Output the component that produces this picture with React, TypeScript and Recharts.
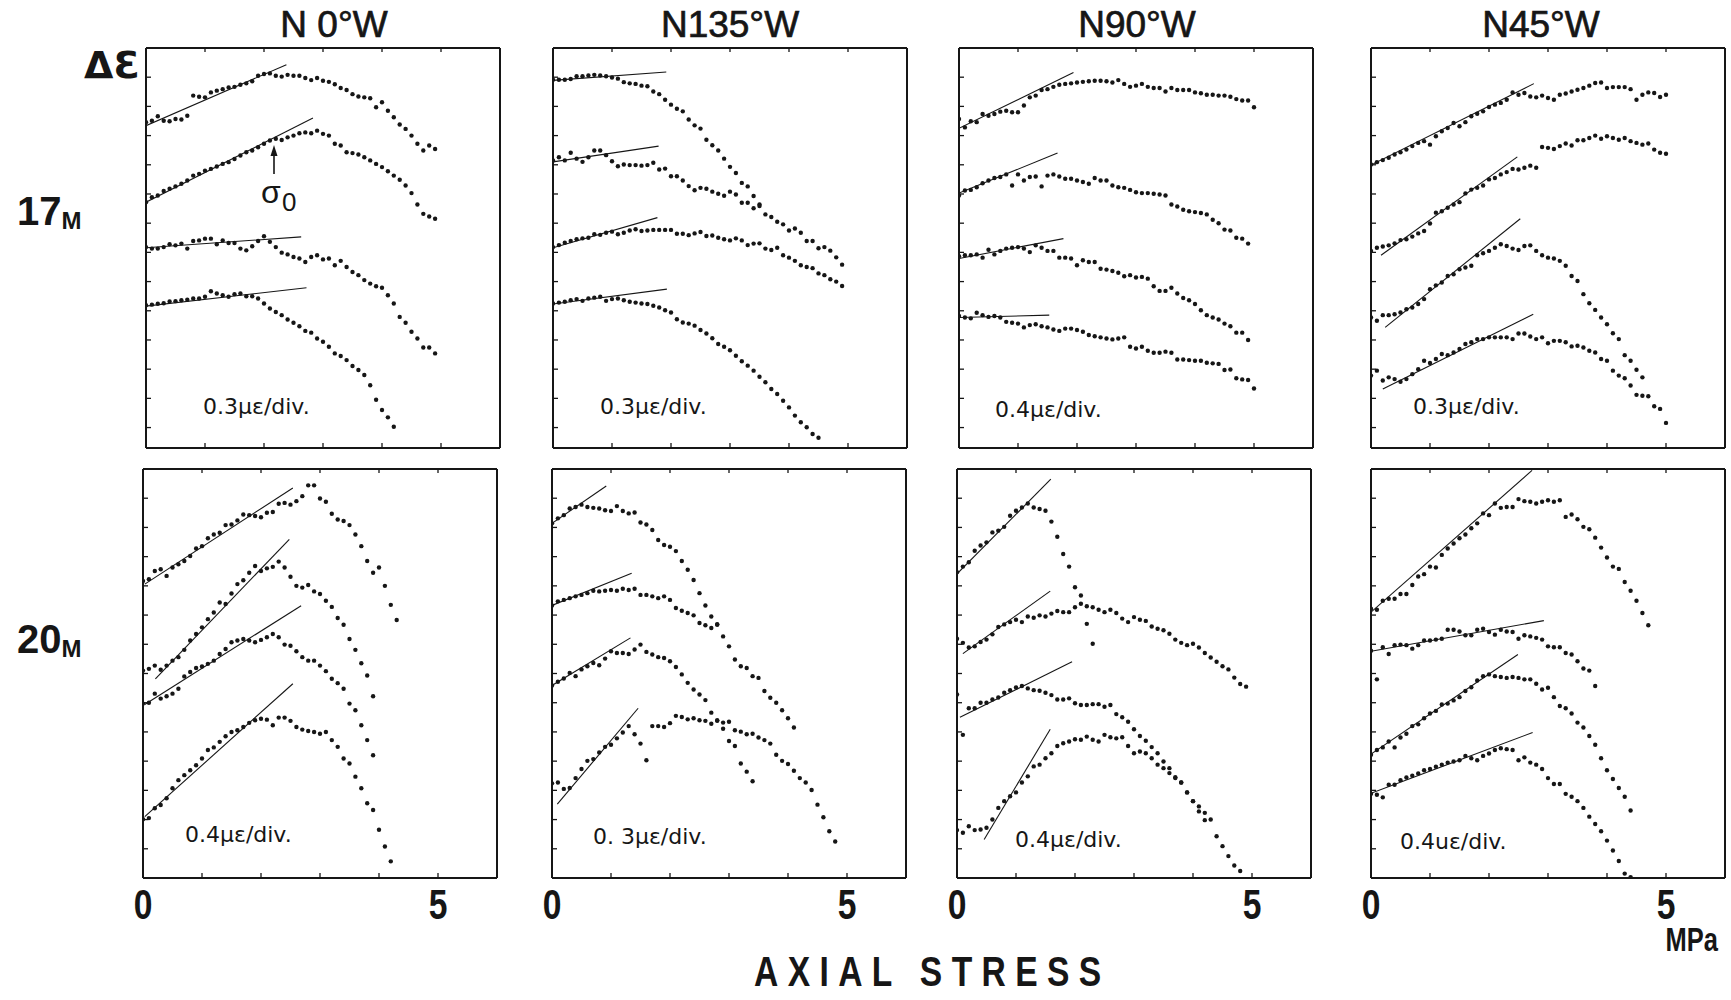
import React from "react";
import { ComposedChart, Scatter, Line, XAxis, YAxis } from "recharts";

// axial stress sampling (MPa), one dot every 0.1 MPa
const STRESS = [
  0, 0.1, 0.2, 0.3, 0.4, 0.5, 0.6, 0.7, 0.8, 0.9, 1.0, 1.1, 1.2, 1.3, 1.4, 1.5, 1.6, 1.7, 1.8, 1.9, 2.0,
  2.1, 2.2, 2.3, 2.4, 2.5, 2.6, 2.7, 2.8, 2.9, 3.0, 3.1, 3.2, 3.3, 3.4, 3.5, 3.6, 3.7, 3.8, 3.9, 4.0,
  4.1, 4.2, 4.3, 4.4, 4.5, 4.6, 4.7, 4.8, 4.9, 5.0,
];

const ORIENTATIONS = ["N 0°W", "N135°W", "N90°W", "N45°W"];
const DEPTHS = ["17", "20"];
const SCALES_17 = ["0.3μɛ/div.", "0.3μɛ/div.", "0.4μɛ/div.", "0.3μɛ/div."];
const SCALES_20 = ["0.4μɛ/div.", "0. 3μɛ/div.", "0.4μɛ/div.", "0.4uɛ/div."];
const X_TICKS = [0, 1, 2, 3, 4, 5];
const Y_TICKS = [0, 1, 2, 3, 4, 5, 6, 7, 8, 9, 10, 11, 12];

// ---- 17 m, N0°W ----  (strain in chart divisions, curves offset)
const N0W_17_1 = [10.46,10.51,10.66,10.51,10.49,10.57,10.55,10.68,11.37,11.33,11.31,11.48,11.54,11.59,11.65,11.67,11.74,11.79,11.86,12.05,12.11,12.13,12.05,12.02,12.08,12.05,12.05,11.97,11.9,11.97,11.88,11.84,11.76,11.63,11.56,11.42,11.34,11.31,11.28,10.97,11.14,10.85,10.63,10.38,10.23,10.0,9.72,9.49,9.66,9.54];
const N0W_17_2 = [7.72,7.89,7.95,8.1,8.18,8.26,8.35,8.46,8.63,8.69,8.8,8.86,8.94,9.03,9.09,9.2,9.32,9.43,9.49,9.6,9.72,9.83,9.89,9.85,9.94,10.0,10.08,10.11,10.08,10.17,10.06,10.0,9.72,9.66,9.43,9.4,9.35,9.26,9.15,9.03,8.92,8.78,8.63,8.49,8.29,8.03,7.64,7.32,7.23,7.15];
const N0W_17_3 = [6.18,6.13,6.13,6.18,6.28,6.24,6.3,6.13,6.39,6.41,6.47,6.47,6.28,6.41,6.32,6.32,6.13,6.07,6.21,6.39,6.55,6.36,6.18,5.99,5.93,5.84,5.79,5.67,5.84,5.9,5.76,5.79,5.56,5.71,5.5,5.33,5.22,5.05,4.93,4.84,4.79,4.53,4.25,3.79,3.59,3.28,3.05,2.74,2.74,2.54];
const N0W_17_4 = [4.19,4.21,4.24,4.26,4.32,4.33,4.36,4.38,4.42,4.42,4.48,4.67,4.59,4.53,4.48,4.57,4.59,4.5,4.5,4.42,4.25,4.08,3.96,3.85,3.7,3.59,3.47,3.31,3.25,3.05,2.94,2.77,2.54,2.45,2.31,2.11,1.97,1.8,1.45,0.95,0.6,0.35,0.03];
const FIT_N0W_17 = [[[0, 10.34], [2.38, 12.43]], [[0, 7.72], [2.83, 10.6]], [[0, 6.16], [2.63, 6.53]], [[0, 4.16], [2.72, 4.79]]];

// ---- 17 m, N135°W ----
const N135W_17_1 = [11.91,11.91,11.91,11.94,12.03,12.03,12.06,12.08,12.06,12.03,11.99,11.95,11.83,11.79,11.77,11.71,11.69,11.51,11.42,11.23,11.06,10.92,10.83,10.55,10.35,10.24,9.86,9.67,9.49,9.21,8.93,8.72,8.38,8.26,7.93,7.64,7.3,7.21,7.05,6.96,6.75,6.82,6.67,6.39,6.39,6.14,6.18,6.06,5.83,5.58];
const N135W_17_2 = [9.15,9.26,9.15,9.41,9.21,9.1,9.26,9.49,9.49,9.33,9.12,8.95,9.01,8.99,8.99,8.97,8.99,9.07,8.84,8.87,8.61,8.61,8.46,8.27,8.13,8.21,8.18,8.08,8.01,7.94,8.08,7.98,7.7,7.7,7.51,7.59];
const N135W_17_3 = [6.18,6.25,6.33,6.39,6.45,6.48,6.5,6.62,6.6,6.67,6.71,6.62,6.67,6.75,6.79,6.73,6.75,6.77,6.77,6.77,6.77,6.64,6.64,6.59,6.65,6.7,6.56,6.58,6.5,6.45,6.41,6.48,6.41,6.25,6.3,6.31,6.13,6.08,6.16,5.9,5.82,5.71,5.56,5.5,5.46,5.28,5.22,5.08,5.0,4.85];
const N135W_17_4 = [4.25,4.28,4.31,4.36,4.4,4.34,4.42,4.45,4.48,4.34,4.4,4.42,4.36,4.31,4.28,4.25,4.23,4.17,4.11,4.02,3.94,3.71,3.6,3.56,3.49,3.34,3.22,3.06,2.86,2.77,2.65,2.46,2.27,2.12,1.95,1.74,1.55,1.32,1.15,0.92,0.69,0.41,0.18,0.01,-0.22,-0.35];
const FIT_N135W_17 = [[[0, 11.89], [1.92, 12.18]], [[0, 9.1], [1.79, 9.64]], [[0, 6.16], [1.77, 7.19]], [[0, 4.23], [1.93, 4.74]]];

// ---- 17 m, N90°W ----
const N90W_17_1 = [10.57,10.28,10.49,10.46,10.74,10.68,10.74,10.82,10.85,10.8,10.8,11.03,11.31,11.37,11.56,11.59,11.67,11.74,11.77,11.79,11.82,11.84,11.86,11.88,11.88,11.86,11.82,11.9,11.77,11.67,11.71,11.77,11.67,11.63,11.63,11.51,11.63,11.56,11.56,11.56,11.48,11.45,11.4,11.4,11.37,11.37,11.33,11.25,11.2,11.2,10.97];
const N90W_17_2 = [7.95,8.12,8.14,8.23,8.37,8.46,8.55,8.58,8.67,8.29,8.67,8.46,8.58,8.6,8.26,8.63,8.67,8.6,8.52,8.52,8.46,8.41,8.35,8.55,8.46,8.46,8.29,8.23,8.21,8.14,8.06,8.03,8.03,8.01,7.98,7.95,7.64,7.57,7.46,7.41,7.38,7.35,7.3,7.12,7.0,6.78,6.75,6.5,6.47,6.3];
const N90W_17_3 = [5.87,5.9,5.9,5.93,5.82,6.09,5.93,6.05,6.13,6.16,6.18,6.13,6.01,6.24,6.16,6.05,6.05,5.82,5.82,5.79,5.56,5.73,5.67,5.67,5.44,5.41,5.36,5.3,5.18,5.22,5.14,5.16,5.1,4.84,4.68,4.68,4.79,4.59,4.44,4.36,4.23,4.02,3.85,3.77,3.7,3.56,3.47,3.25,3.25,3.0];
const N90W_17_4 = [3.82,3.77,3.74,3.93,3.85,3.79,3.82,3.77,3.62,3.59,3.56,3.43,3.51,3.54,3.47,3.43,3.36,3.31,3.39,3.39,3.34,3.28,3.17,3.13,3.09,3.05,3.02,3.05,3.09,2.77,2.71,2.77,2.63,2.56,2.56,2.6,2.56,2.33,2.33,2.31,2.29,2.29,2.22,2.2,2.18,1.97,1.99,1.69,1.65,1.63,1.34];
const FIT_N90W_17 = [[[0, 10.25], [1.94, 12.16]], [[0, 8.03], [1.67, 9.4]], [[0, 5.79], [1.77, 6.47]], [[0, 3.77], [1.53, 3.85]]];

// ---- 17 m, N45°W ----
const N45W_17_1 = [9.01,9.09,9.16,9.24,9.35,9.43,9.52,9.64,9.75,9.81,9.69,9.98,10.15,10.26,10.43,10.32,10.46,10.66,10.75,10.83,10.98,11.06,11.12,11.23,11.48,11.4,11.46,11.34,11.31,11.37,11.29,11.23,11.4,11.44,11.51,11.57,11.63,11.71,11.8,11.82,11.63,11.66,11.66,11.66,11.59,11.23,11.4,11.48,11.46,11.32,11.4];
const N45W_17_2 = [6.05,6.16,6.2,6.24,6.31,6.42,6.45,6.54,6.65,6.73,6.99,7.36,7.41,7.53,7.64,7.72,8.02,8.15,8.21,8.29,8.5,8.55,8.67,8.75,8.86,8.84,8.9,8.97,8.9,9.61,9.58,9.54,9.64,9.73,9.66,9.84,9.84,9.92,10.0,9.89,9.98,9.92,9.86,9.92,9.81,9.75,9.69,9.73,9.52,9.41,9.38];
const N45W_17_3 = [3.77,3.66,3.85,3.85,3.88,3.94,4.05,4.11,4.23,4.4,4.74,4.87,4.97,5.19,5.25,5.42,5.48,5.54,5.9,5.97,6.05,6.16,6.28,6.22,6.13,6.08,6.22,6.24,6.05,5.9,5.82,5.79,5.71,5.54,5.19,5.02,4.57,4.26,4.03,3.77,3.54,3.23,3.03,2.48,2.29,1.98,1.72];
const N45W_17_4 = [1.78,1.95,1.61,1.72,1.66,1.57,1.66,1.83,2.0,2.29,2.21,2.35,2.52,2.48,2.57,2.69,2.86,2.92,3.03,3.03,3.09,3.09,3.09,3.09,3.03,3.22,3.22,3.12,3.03,3.09,2.89,2.97,2.97,2.92,2.78,2.8,2.74,2.63,2.57,2.35,2.29,1.95,1.78,1.69,1.44,1.12,1.09,1.07,0.73,0.64,0.16];
const FIT_N45W_17 = [[[0, 8.99], [2.76, 11.78]], [[0.17, 5.9], [2.48, 9.27]], [[0.24, 3.43], [2.53, 7.15]], [[0.2, 1.32], [2.75, 3.88]]];

// ---- 20 m, N0°W ----
const N0W_20_1 = [9.17,9.23,9.51,9.57,9.34,9.63,9.74,9.85,10.02,10.28,10.36,10.63,10.76,10.82,11.08,11.1,11.24,11.44,11.42,11.39,11.35,11.5,11.53,11.81,11.84,11.78,11.9,12.07,12.44,12.44,11.99,11.88,11.47,11.27,11.22,11.08,10.76,10.36,9.85,9.45,9.63,9.0,8.35,7.83];
const N0W_20_2 = [6.1,6.16,6.27,6.13,6.27,6.44,6.56,6.81,7.13,7.35,7.58,7.86,8.09,8.43,8.38,8.74,9.06,9.19,9.45,9.68,9.51,9.6,9.65,9.83,9.63,9.31,9.0,8.94,9.03,8.81,8.72,8.49,8.28,7.9,7.67,7.18,6.81,6.35,5.93,5.22];
const N0W_20_3 = [4.97,5.0,5.31,5.14,5.22,5.31,5.48,5.9,6.05,6.19,6.24,6.33,6.44,6.67,6.84,7.07,7.13,7.18,7.13,7.07,7.15,7.24,7.35,7.24,6.99,6.95,6.76,6.56,6.44,6.44,6.27,6.08,5.82,5.67,5.48,4.97,4.74,4.23,3.72,3.2];
const N0W_20_4 = [1.01,1.05,1.39,1.5,1.73,2.07,2.35,2.52,2.69,2.86,3.09,3.38,3.47,3.66,3.85,4.0,4.06,4.17,4.31,4.4,4.45,4.42,4.23,4.49,4.49,4.38,4.17,4.08,4.03,4.0,3.94,4.0,3.72,3.49,3.09,2.92,2.47,2.07,1.56,1.33,0.65,0.08,-0.43];
const FIT_N0W_20 = [[[0.03, 9.06], [2.54, 12.35]], [[0.21, 5.82], [2.48, 10.59]], [[0.03, 4.94], [2.68, 8.32]], [[0.03, 1.1], [2.54, 5.65]]];

// ---- 20 m, N135°W ----
const N135W_20_1 = [11.14,11.31,11.42,11.65,11.7,11.78,11.7,11.67,11.65,11.59,11.56,11.73,11.56,11.48,11.51,11.17,11.1,10.91,10.57,10.4,10.34,10.19,9.85,9.55,9.2,8.75,8.33,7.95,7.69,7.27,6.93,6.48,6.25,6.19,5.91,5.85,5.4,5.17,5.0,4.74,4.47,4.15];
const N135W_20_2 = [8.33,8.47,8.52,8.58,8.64,8.69,8.75,8.83,8.81,8.83,8.86,8.83,8.9,8.86,8.9,8.69,8.69,8.64,8.58,8.64,8.52,8.24,8.15,8.07,7.99,7.73,7.65,7.56,7.67];
const N135W_20_3 = [5.59,5.72,5.83,6.02,5.91,6.14,6.25,6.36,6.28,6.51,6.76,6.7,6.7,6.67,6.82,6.99,6.74,6.65,6.56,6.53,6.42,6.22,5.97,5.68,5.45,5.28,5.09,4.66,4.4,4.11,3.69,3.52,2.92,2.64,2.31];
const N135W_20_4 = [2.24,2.27,2.05,2.08,2.42,2.73,3.01,3.07,3.3,3.49,3.56,3.78,3.98,4.2,3.92,3.6,3.03,4.2,4.2,4.17,4.3,4.55,4.51,4.43,4.47,4.4,4.38,4.28,4.38,4.32,4.35,4.06,4.01,3.92,3.94,3.81,3.72,3.6,3.22,3.01,2.9,2.67,2.42,2.27,2.01,1.51,1.08,0.6,0.25];
const FIT_N135W_20 = [[[0, 11.14], [0.92, 12.42]], [[0, 8.33], [1.35, 9.43]], [[0, 5.59], [1.33, 7.22]], [[0.09, 1.53], [1.46, 4.81]]];

// ---- 20 m, N90°W ----
const N90W_20_1 = [9.47,9.66,9.81,10.2,10.38,10.49,10.83,10.89,11.02,11.4,11.57,11.68,11.82,11.68,11.63,11.57,11.2,10.68,10.09,9.66,8.95,8.67,7.7,7.02];
const N90W_20_2 = [7.19,7.05,6.89,6.93,7.08,7.16,7.34,7.59,7.68,7.76,7.84,7.76,7.95,7.91,7.99,7.95,8.05,8.14,8.1,8.1,8.27,8.39,8.3,8.27,8.18,8.1,8.18,8.07,7.88,7.76,7.93,7.84,7.8,7.61,7.53,7.48,7.36,7.16,7.05,6.97,7.02,6.89,6.7,6.55,6.4,6.25,6.14,5.86,5.64,5.55];
const N90W_20_3 = [5.28,3.9,4.81,4.81,5.0,5.0,5.11,5.18,5.34,5.43,5.52,5.57,5.49,5.43,5.41,5.34,5.26,5.11,5.11,5.15,4.98,4.92,4.92,4.95,4.95,4.86,4.92,4.61,4.5,4.35,4.09,3.86,3.7,3.48,3.27,2.99,2.76,2.45,2.27,1.93,1.63,1.28,0.98];
const N90W_20_4 = [0.64,0.55,0.77,0.64,0.66,0.72,1.0,1.4,1.63,1.8,1.93,2.27,2.48,2.82,2.88,3.1,3.27,3.52,3.61,3.67,3.75,3.73,3.84,3.73,3.67,3.9,3.82,3.78,3.82,3.52,3.27,3.33,3.27,3.1,2.88,2.76,2.59,2.42,2.27,1.93,1.63,1.45,1.23,1.0,0.43,0.09,-0.25,-0.57,-0.76];
const FIT_N90W_20 = [[[0, 9.41], [1.59, 12.65]], [[0.1, 6.68], [1.58, 8.82]], [[0.05, 4.5], [1.95, 6.4]], [[0.46, 0.32], [1.58, 4.09]]];

// ---- 20 m, N45°W ----
const N45W_20_1 = [8.22,8.18,8.49,8.56,8.56,8.72,8.72,9.03,9.32,9.4,9.66,9.63,10.06,10.28,10.45,10.63,10.76,10.97,11.14,11.48,11.42,11.82,11.67,11.7,11.7,11.97,11.9,11.88,11.82,11.88,11.93,11.88,11.93,11.36,11.44,11.28,11.02,10.94,10.65,10.31,9.97,9.66,9.58,9.13,8.83,8.49,8.07,7.65];
const N45W_20_2 = [6.78,5.8,6.9,6.67,6.97,6.99,6.97,6.85,6.97,7.13,7.13,7.16,7.19,7.5,7.5,7.44,7.31,7.31,7.5,7.53,7.42,7.33,7.5,7.44,7.42,7.19,7.31,7.27,7.22,7.16,6.93,6.9,6.9,6.7,6.65,6.42,6.17,6.1,5.57];
const N45W_20_3 = [3.22,3.38,3.47,3.67,3.47,3.81,3.94,4.2,4.26,4.47,4.63,4.72,4.94,4.97,5.08,5.19,5.4,5.53,5.76,5.91,5.97,5.91,5.88,5.85,5.88,5.85,5.8,5.8,5.65,5.45,5.51,5.19,4.89,4.81,4.63,4.32,4.15,3.86,3.56,3.1,2.69,2.39,2.08,1.78,1.31];
const N45W_20_4 = [1.88,1.85,1.76,2.19,2.19,2.35,2.44,2.5,2.58,2.69,2.73,2.81,2.88,2.95,2.99,3.03,3.18,3.1,3.03,3.18,3.26,3.38,3.44,3.41,3.38,3.03,3.13,2.95,2.88,2.73,2.42,2.22,2.22,1.88,1.78,1.63,1.4,1.1,0.85,0.6,0.28,-0.06,-0.42,-0.85,-0.97];
const FIT_N45W_20 = [[[0, 8.1], [2.73, 12.95]], [[0, 6.76], [2.93, 7.81]], [[0, 3.24], [2.49, 6.65]], [[0, 1.9], [2.74, 3.98]]];

const ROWS = [
  {
    curves: [
      [N0W_17_1, N0W_17_2, N0W_17_3, N0W_17_4],
      [N135W_17_1, N135W_17_2, N135W_17_3, N135W_17_4],
      [N90W_17_1, N90W_17_2, N90W_17_3, N90W_17_4],
      [N45W_17_1, N45W_17_2, N45W_17_3, N45W_17_4],
    ],
    fits: [FIT_N0W_17, FIT_N135W_17, FIT_N90W_17, FIT_N45W_17],
    scales: SCALES_17,
  },
  {
    curves: [
      [N0W_20_1, N0W_20_2, N0W_20_3, N0W_20_4],
      [N135W_20_1, N135W_20_2, N135W_20_3, N135W_20_4],
      [N90W_20_1, N90W_20_2, N90W_20_3, N90W_20_4],
      [N45W_20_1, N45W_20_2, N45W_20_3, N45W_20_4],
    ],
    fits: [FIT_N0W_20, FIT_N135W_20, FIT_N90W_20, FIT_N45W_20],
    scales: SCALES_20,
  },
];

// layout (page pixels)
const INK = "#161616";
const PANEL_W = 354;
const ROW_TOP = [47.5, 469];
const ROW_H = [400, 409];
const Y_DOMAIN = [[-0.7, 13], [-1, 13]];
const COL_LEFT = [[146, 553, 959, 1371], [143, 552, 957, 1371]];
const TITLE_X = [334, 730, 1137, 1541];
const SCALE_POS = [
  [[203, 414], [600, 414], [995, 417], [1413, 414]],
  [[185, 842], [593, 844], [1015, 847], [1400, 849]],
];
// outer space around each plot; the 1px axis boxes sit inside it
const PAD = 24;
const M = { top: PAD - 1, right: PAD - 1, left: PAD - 1, bottom: PAD };

const toPts = (vals: number[]) => vals.map((e, i) => ({ s: STRESS[i], e }));
const toFit = (f: number[][]) => f.map(([s, e]) => ({ s, e }));

const Dot = (p: any) => <circle cx={p.cx} cy={p.cy} r={2.2} fill={INK} />;

function Panel({ row, col }: { row: number; col: number }) {
  const labels = row === 1;
  const axisH = labels ? 60 : 1;
  const h = ROW_H[row];
  const curves = ROWS[row].curves[col];
  const fits = ROWS[row].fits[col];
  return (
    <div style={{ position: "absolute", left: COL_LEFT[row][col] - PAD, top: ROW_TOP[row] - PAD }}>
      <ComposedChart width={PANEL_W + 2 * PAD} height={h + 2 * PAD + axisH} margin={M}>
        <XAxis
          xAxisId="b"
          dataKey="s"
          type="number"
          domain={[0, 6]}
          ticks={X_TICKS}
          allowDataOverflow
          height={axisH}
          tickSize={0}
          tickMargin={0}
          tickLine={false}
          axisLine={{ stroke: INK, strokeWidth: 2 }}
          tick={(p: any) => (
            <g>
              {p.payload.value > 0 && <line x1={p.x} y1={p.y} x2={p.x} y2={p.y - 5} stroke={INK} strokeWidth={1.3} />}
              {labels && (p.payload.value === 0 || p.payload.value === 5) && (
                <text
                  transform={`translate(${p.x},${p.y + 41}) scale(0.8,1)`}
                  textAnchor="middle"
                  fontSize={42}
                  fontWeight="bold"
                  fontFamily="'Liberation Sans', Arial, sans-serif"
                  fill={INK}
                >
                  {p.payload.value}
                </text>
              )}
            </g>
          )}
        />
        <XAxis
          xAxisId="t"
          orientation="top"
          dataKey="s"
          type="number"
          domain={[0, 6]}
          ticks={X_TICKS}
          allowDataOverflow
          height={1}
          tickSize={0}
          tickMargin={0}
          tickLine={false}
          axisLine={{ stroke: INK, strokeWidth: 2 }}
          tick={(p: any) =>
            p.payload.value > 0 ? <line x1={p.x} y1={p.y} x2={p.x} y2={p.y + 4} stroke={INK} strokeWidth={1.3} /> : <g />
          }
        />
        <YAxis
          yAxisId="l"
          dataKey="e"
          type="number"
          domain={Y_DOMAIN[row]}
          ticks={Y_TICKS}
          allowDataOverflow
          width={1}
          tickSize={0}
          tickMargin={0}
          tickLine={false}
          axisLine={{ stroke: INK, strokeWidth: 2 }}
          tick={(p: any) => <line x1={p.x} y1={p.y} x2={p.x + 5} y2={p.y} stroke={INK} strokeWidth={1.3} />}
        />
        <YAxis
          yAxisId="r"
          orientation="right"
          dataKey="e"
          type="number"
          domain={Y_DOMAIN[row]}
          ticks={Y_TICKS}
          allowDataOverflow
          width={1}
          tick={false}
          tickLine={false}
          axisLine={{ stroke: INK, strokeWidth: 2 }}
        />
        {fits.map((f, i) => (
          <Line
            key={`fit${i}`}
            xAxisId="b"
            yAxisId="l"
            data={toFit(f)}
            dataKey="e"
            type="linear"
            stroke={INK}
            strokeWidth={1.1}
            dot={false}
            activeDot={false}
            isAnimationActive={false}
          />
        ))}
        {curves.map((c, i) => (
          <Scatter key={`c${i}`} xAxisId="b" yAxisId="l" data={toPts(c)} shape={Dot} isAnimationActive={false} />
        ))}
      </ComposedChart>
    </div>
  );
}

export default function App() {
  const sans = "'Liberation Sans', Arial, sans-serif";
  return (
    <div style={{ position: "absolute", left: 0, top: 0, width: 1731, height: 1000, background: "#fff" }}>
      {[0, 1].map((r) => [0, 1, 2, 3].map((c) => <Panel key={`${r}-${c}`} row={r} col={c} />))}
      <svg width={1731} height={1000} style={{ position: "absolute", left: 0, top: 0, pointerEvents: "none" }}>
        {ORIENTATIONS.map((t, i) => (
          <text key={t} x={TITLE_X[i]} y={37} textAnchor="middle" fontSize={37} fontFamily={sans} fill={INK} stroke={INK} strokeWidth={0.7}>
            {t}
          </text>
        ))}
        <text x={84} y={78} fontSize={38} fontWeight="bold" fontFamily="'DejaVu Sans', sans-serif" fill={INK}>
          ΔƐ
        </text>
        {DEPTHS.map((d, i) => (
          <text key={d} x={17} y={i === 0 ? 225 : 653} fontSize={40} fontWeight="bold" fontFamily={sans} fill={INK}>
            {d}
            <tspan fontSize={24} dy={4}>M</tspan>
          </text>
        ))}
        {ROWS.map((row, r) =>
          row.scales.map((s, c) => (
            <text key={`${r}${c}`} x={SCALE_POS[r][c][0]} y={SCALE_POS[r][c][1]} fontSize={22} fontFamily="'DejaVu Sans', sans-serif" fill={INK}>
              {s}
            </text>
          ))
        )}
        {/* sigma-0 marker on the second N0°W curve */}
        <line x1={274} y1={174} x2={274} y2={152} stroke={INK} strokeWidth={1.6} />
        <path d="M274 145 L270.5 156 L277.5 156 Z" fill={INK} />
        <text x={261} y={203} fontSize={32} fontFamily={sans} fill={INK}>
          σ
        </text>
        <text x={282} y={211} fontSize={26} fontFamily={sans} fill={INK}>
          0
        </text>
        <text
          transform="translate(754,986) scale(0.8,1)"
          fontSize={42}
          fontWeight="bold"
          fontFamily={sans}
          fill={INK}
          textLength={434}
          lengthAdjust="spacing"
        >
          AXIAL STRESS
        </text>
        <text transform="translate(1718,951) scale(0.75,1)" textAnchor="end" fontSize={34} fontWeight="bold" fontFamily={sans} fill={INK}>
          MPa
        </text>
      </svg>
    </div>
  );
}
